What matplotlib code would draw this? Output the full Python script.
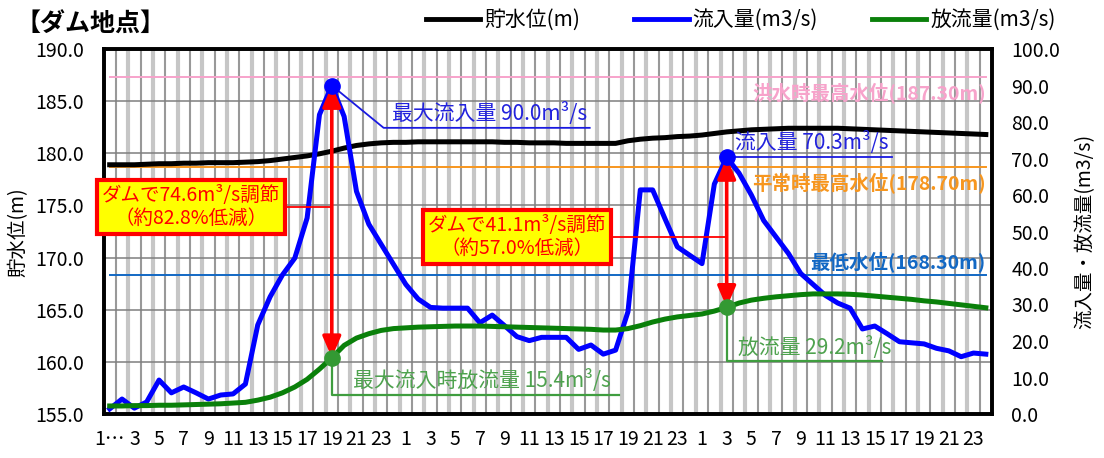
"ダム地点 - 貯水位・流入量・放流量"

import matplotlib
matplotlib.use('Agg')
import matplotlib.pyplot as plt
from matplotlib.lines import Line2D
import numpy as np

plt.rcParams['font.family'] = ['Noto Sans CJK JP', 'DejaVu Sans']

# ---------------- datos ----------------
horas = list(range(1, 73))  # 3 días, cada hora

tick_horas = [1, 3, 5, 7, 9, 11, 13, 15, 17, 19, 21, 23,
              25, 27, 29, 31, 33, 35, 37, 39, 41, 43, 45, 47,
              49, 51, 53, 55, 57, 59, 61, 63, 65, 67, 69, 71]
tick_etiquetas = ['1…', '3', '5', '7', '9', '11', '13', '15', '17', '19', '21', '23',
                  '1', '3', '5', '7', '9', '11', '13', '15', '17', '19', '21', '23',
                  '1', '3', '5', '7', '9', '11', '13', '15', '17', '19', '21', '23']

# 貯水位 (m)
nivel = [178.9, 178.9, 178.9, 178.95, 179.0, 179.0, 179.05, 179.05, 179.1, 179.1, 179.1, 179.15,
         179.2, 179.3, 179.45, 179.6, 179.75, 179.95, 180.2, 180.5, 180.75, 180.9, 181.0, 181.05,
         181.05, 181.1, 181.1, 181.1, 181.1, 181.1, 181.1, 181.1, 181.05, 181.05, 181.0, 181.0,
         181.0, 180.95, 180.95, 180.95, 180.95, 180.95, 181.2, 181.35, 181.45, 181.5, 181.6, 181.65,
         181.75, 181.9, 182.05, 182.15, 182.25, 182.3, 182.35, 182.4, 182.4, 182.4, 182.4, 182.4,
         182.35, 182.3, 182.25, 182.2, 182.15, 182.1, 182.05, 182.0, 181.95, 181.9, 181.85, 181.8]

# 流入量 (m3/s)
entrada = [1.4, 4.1, 1.6, 3.3, 9.3, 5.8, 7.4, 5.8, 4.1, 5.2, 5.5, 8.2,
           24.4, 32.1, 38.1, 42.7, 53.7, 82.0, 90.0, 81.5, 61.0, 52.0, 46.5, 41.0,
           35.5, 31.5, 29.2, 29.0, 29.0, 29.0, 25.0, 27.1, 24.2, 21.2, 20.1, 21.0,
           21.0, 21.0, 17.7, 18.9, 16.4, 17.5, 28.0, 61.4, 61.4, 53.5, 45.8, 43.5,
           41.2, 63.0, 70.3, 66.0, 60.0, 53.0, 48.5, 44.0, 38.5, 35.5, 32.5, 30.4,
           29.0, 23.3, 24.1, 22.0, 19.8, 19.5, 19.2, 18.0, 17.3, 15.7, 16.7, 16.4]

# 放流量 (m3/s)
salida = [2.2, 2.2, 2.3, 2.3, 2.4, 2.4, 2.5, 2.6, 2.7, 2.8, 3.0, 3.2,
          3.8, 4.6, 5.8, 7.4, 9.5, 12.3, 15.4, 18.8, 20.8, 22.0, 22.9, 23.4,
          23.6, 23.8, 23.9, 24.0, 24.1, 24.1, 24.1, 24.0, 23.9, 23.8, 23.7, 23.6,
          23.5, 23.4, 23.3, 23.2, 23.0, 23.0, 23.4, 24.2, 25.2, 26.0, 26.6, 27.0,
          27.4, 28.2, 29.2, 30.4, 31.2, 31.7, 32.1, 32.4, 32.7, 32.9, 32.9, 32.9,
          32.8, 32.6, 32.3, 32.0, 31.7, 31.4, 31.0, 30.7, 30.3, 29.9, 29.5, 29.1]

# 管理水位
niveles_ref = [187.30, 178.70, 168.30]
textos_ref = ['洪水時最高水位(187.30m)', '平常時最高水位(178.70m)', '最低水位(168.30m)']
colores_ref = ['#f7a3cb', '#f7961e', '#1268c4']

# 洪水イベント (時刻)
eventos = [19, 51]

# ---------------- figura ----------------
fig = plt.figure(figsize=(11.04, 4.58), dpi=100)
ax = fig.add_axes([103.5/1104, 1-414/458, 888.5/1104, 365/458])
ax2 = ax.twinx()

# rejilla vertical (alternada)
for i, xv in enumerate(np.arange(1.5, 72.5, 1)):
    if i % 2 == 0:
        ax.axvline(xv, color='#999999', lw=1.5, zorder=0)
    else:
        ax.axvline(xv, color='#c6c6c6', lw=3.0, zorder=0)

ax.set_ylim(155, 190)
ax.set_yticks(np.arange(155, 191, 5))
ax.grid(axis='y', color='#7f7f7f', lw=1.1, zorder=1)
ax.set_axisbelow(True)
ax.set_xlim(0.5, 72.5)

# líneas de nivel de referencia
for nv, tx, c in zip(niveles_ref, textos_ref, colores_ref):
    ax.plot([horas[0], horas[-1]], [nv, nv], color=c, lw=1.4, zorder=2)
ax.text(horas[-1], niveles_ref[0] - 0.5, textos_ref[0], ha='right', va='top',
        color=colores_ref[0], fontsize=14, fontweight='bold', zorder=3)
ax.text(horas[-1], niveles_ref[1] - 0.5, textos_ref[1], ha='right', va='top',
        color=colores_ref[1], fontsize=14, fontweight='bold', zorder=3)
ax.text(horas[-1], niveles_ref[2] + 0.35, textos_ref[2], ha='right', va='bottom',
        color=colores_ref[2], fontsize=14, fontweight='bold', zorder=3)

ax.plot(horas, nivel, color='black', lw=3.6, zorder=3)

ax2.set_ylim(0, 100)
ax2.set_yticks(np.arange(0, 101, 10))
ax2.plot(horas, entrada, color='#0000ff', lw=3.6, zorder=3)
ax2.plot(horas, salida, color='#0a800a', lw=3.6, zorder=3)

# flechas y puntos
for h in eventos:
    i = horas.index(h)
    ax2.annotate('', xy=(h, entrada[i]), xytext=(h, salida[i]),
                 arrowprops=dict(arrowstyle='<|-|>,head_length=0.65,head_width=0.28',
                                 color='red', lw=2.6, mutation_scale=20,
                                 shrinkA=0, shrinkB=0), zorder=4)
    ax2.plot(h, entrada[i], 'o', color='#0000ff', ms=11, zorder=5)
    ax2.plot(h, salida[i], 'o', color='#339933', ms=11, zorder=5)

azul_txt = '#2222dd'
verde_txt = '#4ea24e'

# evento 1
i1 = horas.index(eventos[0])
ax2.plot([eventos[0], 23.2, 39.9], [entrada[i1], 78.4, 78.4], color='#1a1ae0', lw=1.3, zorder=4)
ax2.text(23.9, 79.3, '最大流入量 90.0m³/s', color=azul_txt, fontsize=15, va='bottom', zorder=6)
ax2.plot([eventos[0], eventos[0], 42.3], [salida[i1], 5.2, 5.2], color='#3f9d3f', lw=1.6, zorder=4)
ax2.text(20.7, 5.9, '最大流入時放流量 15.4m³/s', color=verde_txt, fontsize=15, va='bottom', zorder=6)
ax2.plot([7.6, eventos[0]], [56.7, 56.7], color='red', lw=1.3, zorder=4)
ax2.text(7.6, 56.7, 'ダムで74.6m³/s調節\n（約82.8%低減）', ha='center', va='center',
         color='red', fontsize=14, linespacing=1.1, zorder=6,
         bbox=dict(boxstyle='square,pad=0.25', fc='#ffff00', ec='red', lw=3))

# evento 2
i2 = horas.index(eventos[1])
ax2.plot([eventos[1], 64.4], [entrada[i2], entrada[i2]], color='#1a1ae0', lw=1.3, zorder=4)
ax2.text(51.7, entrada[i2] + 0.8, '流入量 70.3m³/s', color=azul_txt, fontsize=15, va='bottom', zorder=6)
ax2.plot([eventos[1], eventos[1], 63.6], [salida[i2], 14.5, 14.5], color='#3f9d3f', lw=1.6, zorder=4)
ax2.text(51.9, 15.2, '放流量 29.2m³/s', color=verde_txt, fontsize=15, va='bottom', zorder=6)
ax2.plot([34.0, eventos[1]], [48.5, 48.5], color='red', lw=1.3, zorder=4)
ax2.text(34.0, 48.5, 'ダムで41.1m³/s調節\n（約57.0%低減）', ha='center', va='center',
         color='red', fontsize=14, linespacing=1.1, zorder=6,
         bbox=dict(boxstyle='square,pad=0.25', fc='#ffff00', ec='red', lw=3))

# ejes
ax.set_xticks(tick_horas)
ax.set_xticklabels(tick_etiquetas)
ax.yaxis.set_major_formatter(matplotlib.ticker.FormatStrFormatter('%.1f'))
ax2.yaxis.set_major_formatter(matplotlib.ticker.FormatStrFormatter('%.1f'))
ax.tick_params(axis='both', length=0, labelsize=14)
ax.tick_params(axis='y', pad=14)
ax.tick_params(axis='x', pad=11)
ax2.tick_params(axis='y', length=0, labelsize=14, pad=14)
for a in (ax, ax2):
    for s in a.spines.values():
        s.set_linewidth(2.6)
        s.set_color('black')

fig.text(18/1104, 1-232/458, '貯水位(m)', rotation=90, ha='center', va='center', fontsize=14)
fig.text(1085/1104, 1-231/458, '流入量・放流量(m3/s)', rotation=90, ha='center', va='center', fontsize=14)
fig.text(16/1104, 1-25/458, '【ダム地点】', ha='left', va='center', fontsize=18, fontweight='bold')

manijas = [Line2D([], [], color='black', lw=3.5),
           Line2D([], [], color='#0000ff', lw=3.5),
           Line2D([], [], color='#0a800a', lw=3.5)]
fig.legend(manijas, ['貯水位(m)', '流入量(m3/s)', '放流量(m3/s)'], loc='center right',
           bbox_to_anchor=(1056/1104, 1-20/458), ncol=3, frameon=False, fontsize=15,
           handlelength=2.6, handletextpad=0.2, columnspacing=2.6,
           borderaxespad=0, borderpad=0)

fig.savefig('out.png', dpi=100)
